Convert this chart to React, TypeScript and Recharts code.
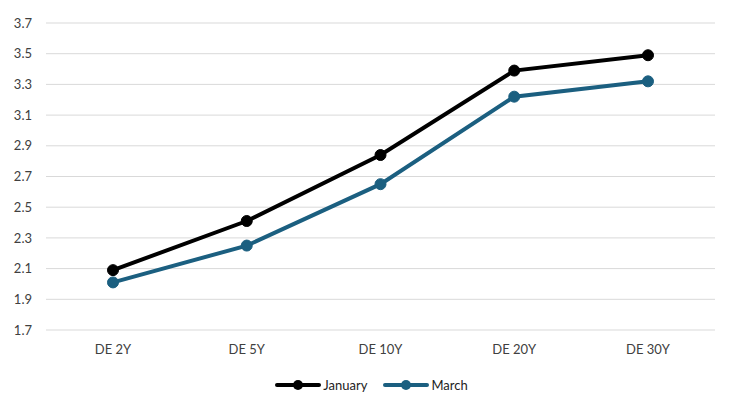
import { LineChart, Line, XAxis, YAxis, CartesianGrid, Legend } from "recharts"

const tenors = ["DE 2Y", "DE 5Y", "DE 10Y", "DE 20Y", "DE 30Y"]
const january = [2.09, 2.41, 2.84, 3.39, 3.49]
const march = [2.01, 2.25, 2.65, 3.22, 3.32]
const yTicks = [1.7, 1.9, 2.1, 2.3, 2.5, 2.7, 2.9, 3.1, 3.3, 3.5, 3.7]

const series = [
  { key: "January", color: "#000000", values: january },
  { key: "March", color: "#1b5f80", values: march },
]

const data = tenors.map((name, i) => ({
  name,
  January: january[i],
  March: march[i],
}))

const font = "Lato, 'Open Sans', sans-serif"

function LegendContent() {
  return (
    <div style={{ display: "flex", justifyContent: "center", gap: 16, fontFamily: font, fontSize: 13, color: "#222", height: 16, paddingLeft: 28 }}>
      {series.map((s) => (
        <div key={s.key} style={{ display: "flex", alignItems: "center" }}>
          <svg width={46} height={12}>
            <line x1={2} y1={6} x2={44} y2={6} stroke={s.color} strokeWidth={4} strokeLinecap="round" />
            <circle cx={23} cy={6} r={5} fill={s.color} />
          </svg>
          <span style={{ marginLeft: 2 }}>{s.key}</span>
        </div>
      ))}
    </div>
  )
}

export default function App() {
  return (
    <div style={{ position: "absolute", left: 0, top: 0, width: 738, height: 413, background: "#fff" }}>
      <LineChart width={738} height={413} data={data} margin={{ top: 23, right: 23, left: 0, bottom: 4 }}>
        <CartesianGrid vertical={false} stroke="#d9d9d9" strokeWidth={1} />
        <XAxis
          dataKey="name"
          axisLine={false}
          tickLine={false}
          tickMargin={9}
          height={63}
          padding={{ left: 67, right: 67 }}
          tick={{ fontSize: 13, fill: "#404040", fontFamily: font }}
        />
        <YAxis
          domain={[1.7, 3.7]}
          ticks={yTicks}
          tickFormatter={(v: number) => v.toFixed(1)}
          axisLine={false}
          tickLine={false}
          tickMargin={8}
          width={46}
          tick={{ fontSize: 13, fill: "#404040", fontFamily: font }}
        />
        <Legend verticalAlign="bottom" content={<LegendContent />} wrapperStyle={{ bottom: 20 }} />
        {series.map((s) => (
          <Line
            key={s.key}
            dataKey={s.key}
            stroke={s.color}
            strokeWidth={4}
            dot={{ r: 5.5, fill: s.color, stroke: s.color, strokeWidth: 1 }}
            isAnimationActive={false}
          />
        ))}
      </LineChart>
    </div>
  )
}
